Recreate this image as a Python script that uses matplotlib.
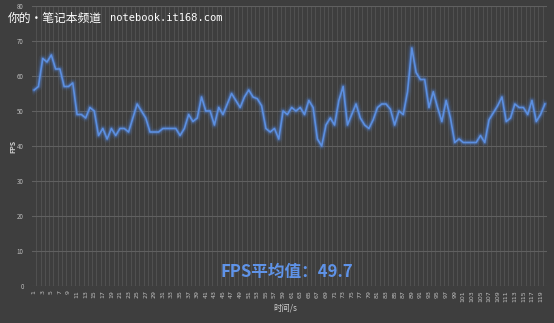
import matplotlib.pyplot as plt

plt.rcParams['font.family'] = ['Noto Sans CJK SC', 'DejaVu Sans']

# FPS values, one per second (1..120)
fps = [56, 57, 65, 64, 66, 62, 62, 57, 57, 58,
       49, 49, 48, 51, 50, 43, 45, 42, 45, 43,
       45, 45, 44, 48, 52, 50, 48, 44, 44, 44,
       45, 45, 45, 45, 43, 45, 49, 47, 48, 54,
       50, 50, 46, 51, 49, 52, 55, 53, 51, 54,
       56, 54, 53.5, 51.5, 45, 44, 45, 42, 50, 49,
       51, 50, 51, 49, 53, 51, 42, 40, 46, 48,
       46, 53, 57, 46, 49, 52, 48, 46, 45, 47.5,
       51, 52, 52, 50.5, 46, 50, 49, 55.5, 68, 61,
       59, 59, 51, 55.5, 51, 47, 53, 48, 41, 42,
       41, 41, 41, 41, 43, 41, 47.5, 49.5, 51.5, 54,
       47, 48, 52, 51, 51, 49, 53, 47, 49, 52]
seconds = list(range(1, len(fps) + 1))
tick_labels = [str(s) for s in seconds[::2]]
yticks = [0, 10, 20, 30, 40, 50, 60, 70, 80]
avg_text = 'FPS平均值：49.7'

bg = '#3e3e3e'
fig = plt.figure(figsize=(5.54, 3.23), dpi=100, facecolor=bg)
ax = fig.add_axes([32 / 554, 1 - 286 / 323, 515 / 554, 280 / 323])
ax.set_facecolor(bg)

# vertical category grid
for s in seconds:
    ax.axvline(s + 0.5, color='#5a5a5a', lw=0.6, alpha=0.8, zorder=1)
ax.set_yticks(yticks)
ax.grid(axis='y', color='#606060', lw=0.8, zorder=1)

# glow + line
for w, a in [(6, 0.08), (4, 0.15), (2.6, 0.3)]:
    ax.plot(seconds, fps, color='#4f86e0', lw=w, alpha=a, solid_joinstyle='round', zorder=3)
ax.plot(seconds, fps, color='#5c8fe0', lw=1.2, zorder=4)

ax.set_xlim(0.5, 120.5)
ax.set_ylim(0, 80)
ax.set_xticks(seconds[::2])
ax.set_xticklabels(tick_labels, rotation=90, fontsize=4.5, color='#bdbdbd', family='DejaVu Sans')
ax.tick_params(axis='y', labelsize=4.5, labelcolor='#bdbdbd', length=0, pad=6)
ax.tick_params(axis='x', length=0, pad=3)
for sp in ax.spines.values():
    sp.set_visible(False)

fig.text(13 / 554, 1 - 146 / 323, 'FPS', fontsize=5, color='#cfcfcf', fontweight='bold',
         rotation=90, ha='center', va='center')
fig.text(285 / 554, 1 - 308 / 323, '时间/s', fontsize=6, color='#cfcfcf', ha='center', va='center')

fig.text(287 / 554, 1 - 272 / 323, avg_text, fontsize=12, fontweight='bold',
         color='#5f93e8', ha='center', va='center')

fig.text(8 / 554, 1 - 18 / 323, '你的•笔记本频道', fontsize=8.5, color='white', va='center')
fig.text(110 / 554, 1 - 18 / 323, 'notebook.it168.com', fontsize=7.5, color='white',
         va='center', family='DejaVu Sans Mono')

fig.savefig('out.png', dpi=100, facecolor=bg)
